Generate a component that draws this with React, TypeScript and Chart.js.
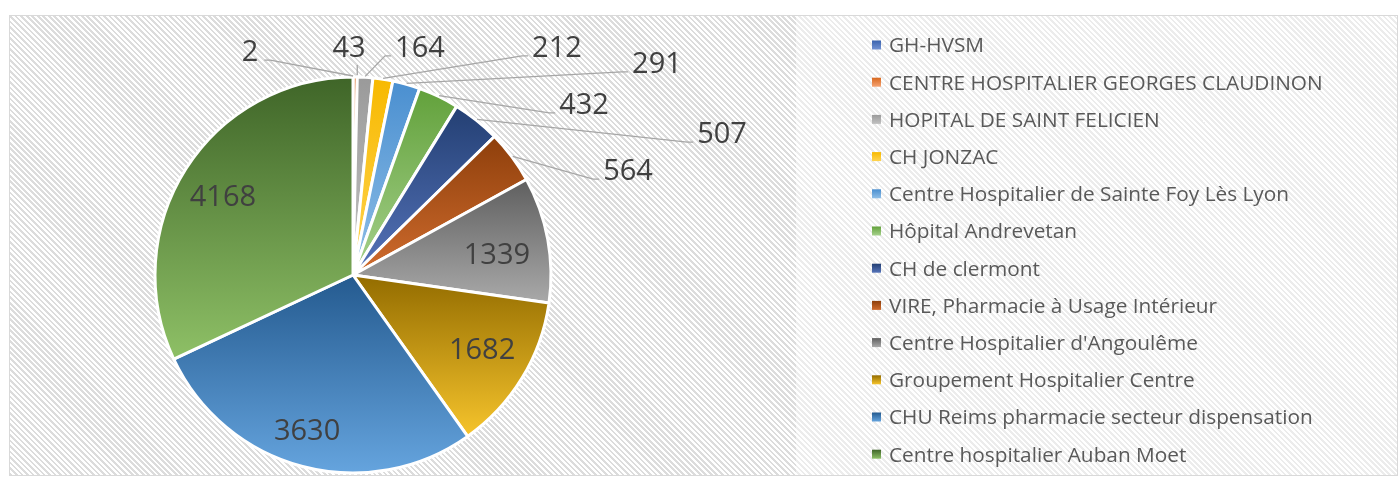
import React, { useEffect, useRef } from "react";
import { Chart, registerables } from "chart.js";

Chart.register(...registerables);

const categories = [
  "GH-HVSM",
  "CENTRE HOSPITALIER GEORGES CLAUDINON",
  "HOPITAL DE SAINT FELICIEN",
  "CH JONZAC",
  "Centre Hospitalier de Sainte Foy Lès Lyon",
  "Hôpital Andrevetan",
  "CH de clermont",
  "VIRE, Pharmacie à Usage Intérieur",
  "Centre Hospitalier d'Angoulême",
  "Groupement Hospitalier Centre",
  "CHU Reims pharmacie secteur dispensation",
  "Centre hospitalier Auban Moet",
];

const values = [2, 43, 164, 212, 291, 432, 507, 564, 1339, 1682, 3630, 4168];

const colorTop = [
  "#3a63ae", "#d8681f", "#9a9a9a", "#f7b900", "#4a8fd0", "#62a13b",
  "#233f73", "#8e3f0b", "#5f5f5f", "#936c00", "#245a8f", "#3f6528",
];
const colorBottom = [
  "#7393d3", "#f5a372", "#c2c2c2", "#ffd451", "#90bfe7", "#a6d18c",
  "#5674ba", "#d06c2e", "#a9a9a9", "#f6c42c", "#65a4de", "#8ec066",
];

// label centre placement, in units of the pie radius, relative to the pie centre
// (labels whose position lies beyond the radius get a leader line)
const labelOffsets: [number, number][] = [
  [-0.52, -1.131],
  [-0.02, -1.152],
  [0.338, -1.152],
  [1.03, -1.152],
  [1.535, -1.071],
  [1.167, -0.864],
  [1.864, -0.717],
  [1.389, -0.53],
  [0.727, -0.106],
  [0.652, 0.374],
  [-0.232, 0.783],
  [-0.657, -0.399],
];

const LABEL_SIZE = 29;
const LEGEND_SIZE = 20.8;
const FONT_FAMILY = "'Open Sans', 'Noto Sans', sans-serif";
const CAP = 0.714;

function arcBBoxY(x: number, y: number, sa: number, ea: number, r: number) {
  let minY = y;
  let maxY = y;
  const angles = [sa, ea];
  for (const a of [-Math.PI / 2, Math.PI / 2, (3 * Math.PI) / 2]) {
    if (a >= sa && a <= ea) angles.push(a);
  }
  for (const a of angles) {
    const py = y + Math.sin(a) * r;
    minY = Math.min(minY, py);
    maxY = Math.max(maxY, py);
  }
  return [minY, maxY];
}

const gradientPlugin = {
  id: "sliceGradients",
  beforeDatasetsDraw(chart: any) {
    const ctx = chart.ctx;
    const meta = chart.getDatasetMeta(0);
    meta.data.forEach((arc: any, i: number) => {
      const { x, y, startAngle, endAngle, outerRadius } = arc.getProps(
        ["x", "y", "startAngle", "endAngle", "outerRadius"],
        true
      );
      const [y0, y1] = arcBBoxY(x, y, startAngle, endAngle, outerRadius);
      const g = ctx.createLinearGradient(0, y0, 0, Math.max(y1, y0 + 1));
      g.addColorStop(0, colorTop[i]);
      g.addColorStop(1, colorBottom[i]);
      arc.options = Object.assign({}, arc.options, { backgroundColor: g });
    });
  },
};

const labelPlugin = {
  id: "valueLabels",
  afterDatasetsDraw(chart: any) {
    const ctx = chart.ctx;
    const meta = chart.getDatasetMeta(0);
    ctx.save();
    ctx.font = `${LABEL_SIZE}px ${FONT_FAMILY}`;
    ctx.textAlign = "center";
    ctx.textBaseline = "alphabetic";
    const half = (LABEL_SIZE * CAP) / 2;
    meta.data.forEach((arc: any, i: number) => {
      const { x, y, startAngle, endAngle, outerRadius } = arc.getProps(
        ["x", "y", "startAngle", "endAngle", "outerRadius"],
        true
      );
      const mid = (startAngle + endAngle) / 2;
      const text = String(values[i]);
      const off = labelOffsets[i];
      const tx = x + off[0] * outerRadius;
      const ty = y + off[1] * outerRadius;
      const outside = Math.hypot(off[0], off[1]) > 1;
      if (outside) {
        const w = ctx.measureText(text).width;
        const px = x + Math.cos(mid) * (outerRadius + 1);
        const py = y + Math.sin(mid) * (outerRadius + 1);
        ctx.strokeStyle = "#a6a6a6";
        ctx.lineWidth = 1.3;
        ctx.beginPath();
        if (Math.abs(px - tx) > w / 2 + 4) {
          const right = px > tx;
          const sx = right ? tx + w / 2 + 6 : tx - w / 2 - 4;
          const sy = ty + 9;
          ctx.moveTo(sx, sy);
          ctx.lineTo(sx + (right ? 6 : -6), sy);
          ctx.lineTo(px, py);
        } else {
          ctx.moveTo(px + 2, ty + 18);
          ctx.lineTo(px + 2, py - 1);
        }
        ctx.stroke();
      }
      ctx.fillStyle = "#404040";
      ctx.fillText(text, tx, ty + half);
    });
    ctx.restore();
  },
};

const legendPlugin = {
  id: "sideLegend",
  afterDraw(chart: any) {
    const ctx = chart.ctx;
    ctx.save();
    ctx.font = `${LEGEND_SIZE}px ${FONT_FAMILY}`;
    ctx.textAlign = "left";
    ctx.textBaseline = "alphabetic";
    const half = (LEGEND_SIZE * CAP) / 2;
    categories.forEach((c, i) => {
      const cy = 45 + i * 37.2;
      const g = ctx.createLinearGradient(0, cy - 4.5, 0, cy + 4.5);
      g.addColorStop(0, colorTop[i]);
      g.addColorStop(1, colorBottom[i]);
      ctx.fillStyle = g;
      ctx.fillRect(872, cy - 4.5, 9, 9);
      ctx.fillStyle = "#595959";
      ctx.fillText(c, 889, cy + half);
    });
    ctx.restore();
  },
};

function PieChart() {
  const ref = useRef<HTMLCanvasElement | null>(null);
  useEffect(() => {
    if (!ref.current) return;
    const chart = new Chart(ref.current, {
      type: "pie",
      data: {
        labels: categories,
        datasets: [
          {
            data: values,
            backgroundColor: (c: any) => colorTop[c.dataIndex] || "#888",
            borderColor: "#ffffff",
            borderWidth: 3,
          },
        ],
      },
      options: {
        animation: false,
        responsive: false,
        maintainAspectRatio: false,
        radius: 198,
        layout: { padding: { left: 153, right: 847, top: 75, bottom: 2 } },
        plugins: {
          legend: { display: false },
          tooltip: { enabled: false },
        },
      } as any,
      plugins: [gradientPlugin, labelPlugin, legendPlugin],
    });
    return () => chart.destroy();
  }, []);
  return (
    <canvas
      ref={ref}
      width={1400}
      height={477}
      style={{ position: "absolute", left: 0, top: 0, width: 1400, height: 477 }}
    />
  );
}

export default function App() {
  const stripe = (c: string) =>
    `repeating-linear-gradient(45deg, ${c} 0px, ${c} 1.9px, #ffffff 1.9px, #ffffff 3.9px)`;
  return (
    <div
      style={{
        position: "fixed",
        left: 0,
        top: 0,
        width: 1400,
        height: 477,
        background: "#ffffff",
        overflow: "hidden",
      }}
    >
      <div
        style={{
          position: "absolute",
          left: 9,
          top: 15,
          width: 1389,
          height: 461,
          border: "1px solid #d9d9d9",
          boxSizing: "border-box",
          background: stripe("#ececec"),
        }}
      >
        <div
          style={{
            position: "absolute",
            left: 0,
            top: 0,
            width: 786,
            bottom: 0,
            background: stripe("#dcdcdc"),
          }}
        />
      </div>
      <PieChart />
    </div>
  );
}
